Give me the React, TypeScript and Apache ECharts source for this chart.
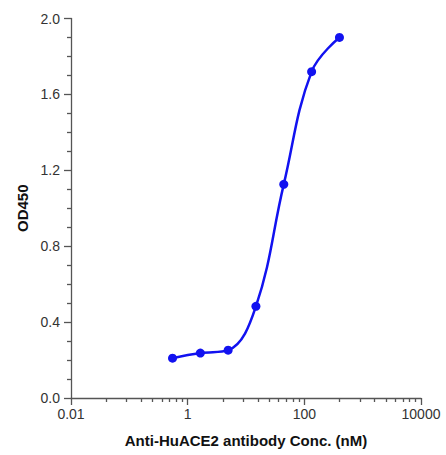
import React, { useEffect, useRef } from "react";
import * as echarts from "echarts";

// Antibody concentration (nM), 3-fold dilution series
const concentrations = [0.55, 1.65, 4.94, 14.8, 44.4, 133.3, 400];
// OD450 readings
const od450 = [0.21, 0.237, 0.252, 0.483, 1.126, 1.72, 1.9];

const xMajorTicks = [0.01, 1, 100, 10000];
const xMinorTicks = [
  0.04, 0.09, 0.16, 0.25, 0.36, 0.49, 0.64, 0.81,
  4, 9, 16, 25, 36, 49, 64, 81,
  400, 900, 1600, 2500, 3600, 4900, 6400, 8100,
];

const fmt = (v: number) => String(Number(Number(v).toPrecision(6)));

const GRID = { left: 71, right: 25, top: 18.5, bottom: 57 };
const H = 455;

export default function App() {
  const ref = useRef<HTMLDivElement>(null);
  useEffect(() => {
    if (!ref.current) return;
    const chart = echarts.init(ref.current, null, { renderer: "svg" });
    const axisColor = "#555";
    const font = "Liberation Sans, Arial, sans-serif";
    const labelStyle = { color: "#333", fontSize: 14, fontFamily: font };
    const nameStyle = { color: "#111", fontSize: 15, fontWeight: "bold", fontFamily: font };
    const gridH = H - GRID.top - GRID.bottom;
    chart.setOption({
      animation: false,
      backgroundColor: "#fff",
      grid: GRID,
      xAxis: [
        {
          type: "log",
          logBase: 10,
          min: 0.01,
          max: 10000,
          name: "Anti-HuACE2 antibody Conc. (nM)",
          nameLocation: "middle",
          nameGap: 35,
          nameTextStyle: nameStyle,
          axisLine: { show: true, lineStyle: { color: axisColor, width: 1.3 } },
          axisTick: {
            show: true,
            customValues: xMajorTicks,
            length: 7,
            lineStyle: { color: axisColor, width: 1.3 },
          },
          axisLabel: {
            ...labelStyle,
            customValues: xMajorTicks,
            margin: 9,
            formatter: (v: number) => fmt(v),
          },
          splitLine: { show: false },
        },
        {
          type: "log",
          logBase: 10,
          min: 0.01,
          max: 10000,
          gridIndex: 0,
          position: "top",
          offset: -gridH,
          axisLine: { show: false },
          axisTick: {
            show: true,
            inside: true,
            customValues: xMinorTicks,
            length: 4,
            lineStyle: { color: axisColor, width: 1.3 },
          },
          axisLabel: { show: false },
          splitLine: { show: false },
        },
      ],
      yAxis: {
        type: "value",
        min: 0,
        max: 2,
        interval: 0.4,
        name: "OD450",
        nameLocation: "middle",
        nameGap: 40,
        nameTextStyle: nameStyle,
        axisLine: { show: true, lineStyle: { color: axisColor, width: 1.3 } },
        axisTick: { show: true, length: 7, lineStyle: { color: axisColor, width: 1.3 } },
        minorTick: { show: true, splitNumber: 4, length: 4, lineStyle: { color: axisColor, width: 1.3 } },
        axisLabel: {
          ...labelStyle,
          margin: 11,
          formatter: (v: number) => v.toFixed(1),
        },
        splitLine: { show: false },
      },
      series: [
        {
          type: "line",
          xAxisIndex: 0,
          data: concentrations.map((c, i) => [c, od450[i]]),
          smooth: 0.4,
          symbol: "circle",
          symbolSize: 9,
          itemStyle: { color: "#1212f0" },
          lineStyle: { color: "#1212f0", width: 2.5 },
        },
      ],
    });
    return () => chart.dispose();
  }, []);
  return (
    <div
      ref={ref}
      style={{ position: "absolute", left: 0, top: 0, width: 446, height: H }}
    />
  );
}
